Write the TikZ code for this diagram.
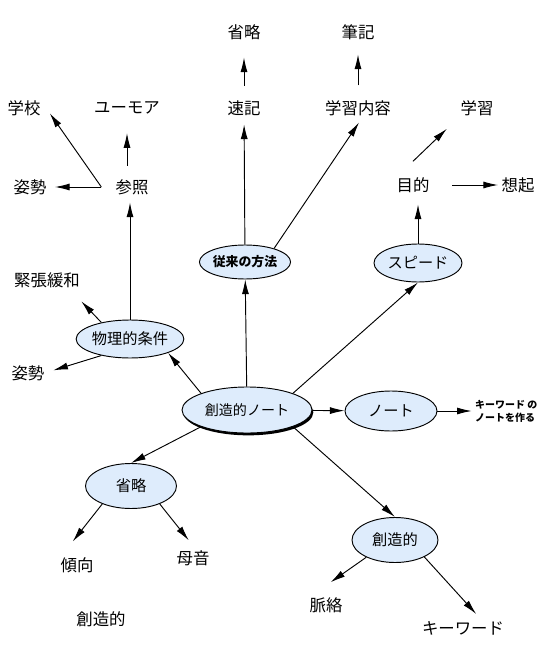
\documentclass[tikz,border=0pt]{standalone}
\usepackage{fontspec}
\setmainfont{Noto Sans CJK JP}
\usetikzlibrary{arrows.meta,shapes.geometric,shadows,calc}
\definecolor{bubblefill}{RGB}{222,236,252}

\begin{document}
\begin{tikzpicture}[x=0.3mm,y=-0.3mm,
  bubble/.style={ellipse,draw,line width=0.8pt,fill=bubblefill,inner sep=0pt,
    font=\fontsize{13}{15}\selectfont},
  word/.style={inner sep=0pt,font=\fontsize{14}{16}\selectfont},
  arr/.style={-{Latex[length=4.4mm,width=2.1mm]},line width=0.8pt}]
  \useasboundingbox(0,0)rectangle(545,652);
  \node[bubble,minimum width=39mm,minimum height=13.8mm,font=\fontsize{12}{14}\selectfont,
    drop shadow={shadow xshift=0.4mm,shadow yshift=-0.7mm,fill=black,opacity=1}]
    (main)at(247,410){創造的ノート};
  \node[bubble,minimum width=27.6mm,minimum height=12mm](note)at(391,411){ノート};
  \node[bubble,minimum width=27mm,minimum height=10.2mm,
    font=\bfseries\fontsize{11}{13}\selectfont](juurai)at(245,262){従来の方法};
  \node[bubble,minimum width=26.4mm,minimum height=11.4mm](speed)at(418,263){スピード};
  \node[bubble,minimum width=31.8mm,minimum height=11.4mm](butsuri)at(130,339){物理的条件};
  \node[bubble,minimum width=27.3mm,minimum height=13.5mm](shoryaku)at(131,486){省略};
  \node[bubble,minimum width=25.8mm,minimum height=13.5mm](sozo)at(395,540){創造的};

  \node[word](shoryakuT)at(244,32){省略};
  \node[word](hikki)at(358,32){筆記};
  \node[word](sokki)at(244,108){速記};
  \node[word](naiyo)at(358,108){学習内容};
  \node[word](gakko)at(24,108){学校};
  \node[word](yumoa)at(127,108){ユーモア};
  \node[word](gakushu)at(477,108){学習};
  \node[word](shiseiA)at(30,187){姿勢};
  \node[word](sansho)at(132,187){参照};
  \node[word](mokuteki)at(413,185){目的};
  \node[word](soki)at(518,185){想起};
  \node[word](kincho)at(47,280){緊張緩和};
  \node[word](shiseiB)at(28,373){姿勢};
  \node[word](keiko)at(77,565){傾向};
  \node[word](boin)at(193,558){母音};
  \node[word](sozoT)at(101,619){創造的};
  \node[word](myaku)at(326,605){脈絡};
  \node[word](kw)at(463,628){キーワード};
  \node[word,font=\bfseries\fontsize{8.5}{11}\selectfont,align=left,anchor=west]
    (kwnote)at(475,411){キーワード の\\ノートを作る};
  \coordinate(fork)at($(sansho.west)+(-14,0)$);

  \draw[arr](main)--(juurai);
  \draw[arr,shorten >=2.6mm](juurai)--(sokki);
  \draw[arr,shorten <=4.4mm,shorten >=5.3mm](sokki)--(shoryakuT);
  \draw[arr,shorten >=2.4mm](juurai.25)--(naiyo.-55);
  \draw[arr,shorten <=4.4mm,shorten >=4.4mm](naiyo)--(hikki);
  \draw[arr](main.20)--(speed.south);
  \draw[arr,shorten >=3.5mm](speed.north)--(speed.north|-mokuteki.south);
  \draw[arr,shorten <=6.9mm,shorten >=5.6mm](mokuteki.north west)--(gakushu.south west);
  \draw[arr,shorten <=6.75mm,shorten >=1mm](mokuteki)--(soki);
  \draw[arr](main.160)--(butsuri.-20);
  \draw[arr,shorten >=2.3mm](butsuri.north)--(butsuri.north|-sansho.south);
  \draw[arr,shorten <=4.1mm,shorten >=5.6mm](sansho.north-|yumoa)--(yumoa);
  \draw[arr,shorten >=4.8mm](fork)--(gakko.north east);
  \draw[arr,shorten >=2.5mm](fork)--(shiseiA);
  \draw[arr,shorten >=5.6mm](butsuri.150)--(kincho.-20);
  \draw[arr,shorten >=2.7mm](butsuri.210)--(shiseiB.east);
  \draw[arr](main.200)--(shoryaku.north);
  \draw[arr,shorten >=6mm](shoryaku.212)--(keiko.north west);
  \draw[arr,shorten >=3.8mm](shoryaku.-32)--(boin.65);
  \draw[arr](main.-20)--(sozo.north);
  \draw[arr,shorten >=7.8mm](sozo.211)--(myaku.north west);
  \draw[arr,shorten >=2.8mm](sozo.-30)--(kw.20);
  \draw[arr](main)--(note);
  \draw[arr,shorten >=1mm](note)--(kwnote);
\end{tikzpicture}
\end{document}
